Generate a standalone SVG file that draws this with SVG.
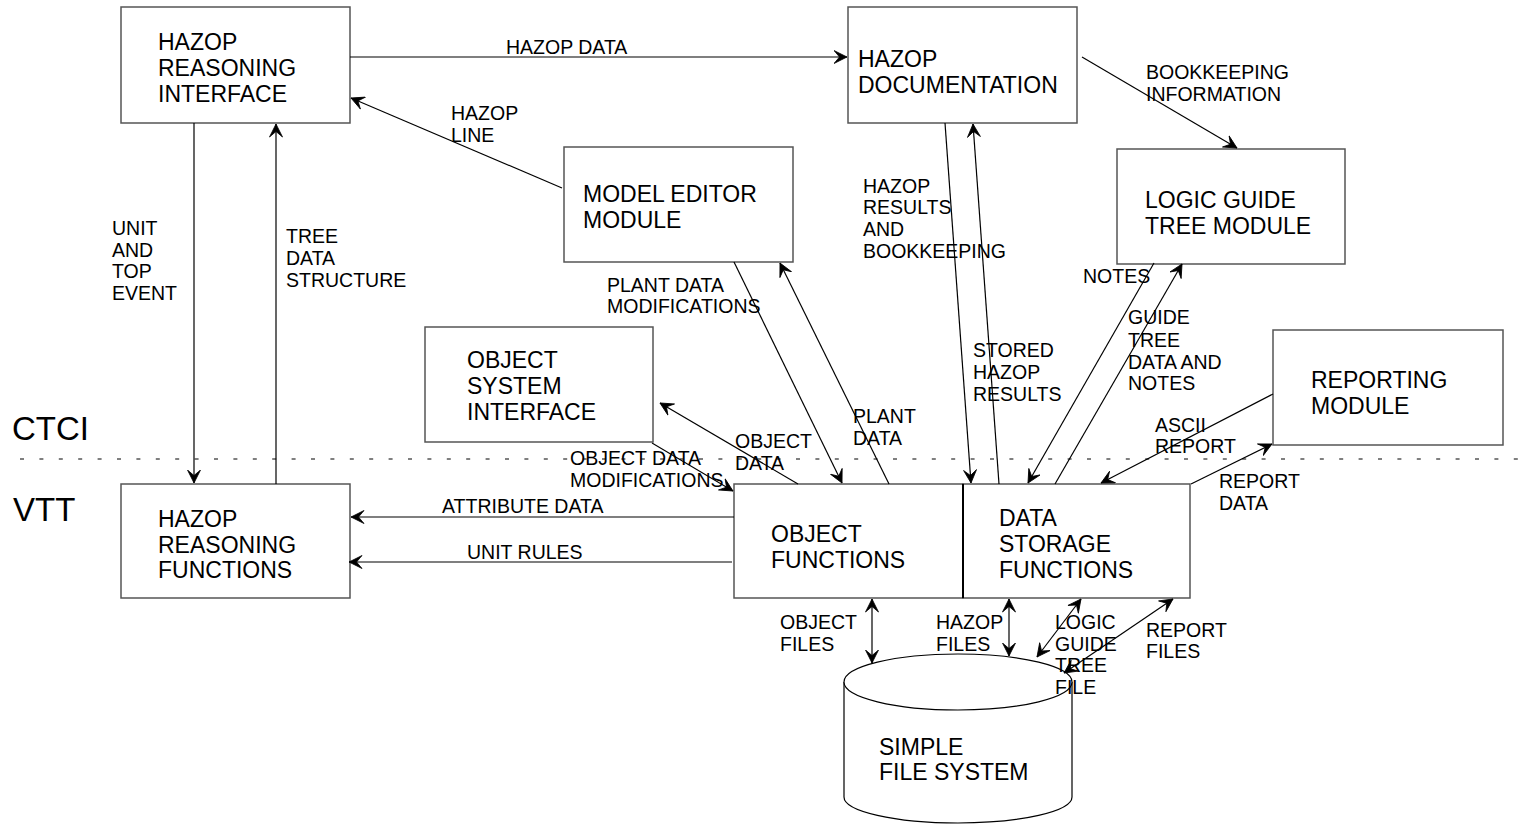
<svg xmlns="http://www.w3.org/2000/svg" width="1525" height="824" viewBox="0 0 1525 824">
  <style>
    .box { fill: #fff; stroke: #555; stroke-width: 1.5; }
    .big { font-family: "Liberation Sans", Arial, sans-serif; font-size: 23px; fill: #000; }
    .lbl { font-family: "Liberation Sans", Arial, sans-serif; font-size: 19.5px; fill: #000; }
    .side { font-family: "Liberation Sans", Arial, sans-serif; font-size: 33px; fill: #000; }
    .c { fill: none; stroke: #000; stroke-width: 1.2; }
    .a { marker-end: url(#ah); }
    .b { marker-start: url(#ah); marker-end: url(#ah); }
  </style>
  <defs>
    <!-- barbed dart arrowhead, reversed at line starts for two-way flows -->
    <marker id="ah" viewBox="0 0 14 14" refX="13.5" refY="7" markerWidth="14" markerHeight="14" markerUnits="userSpaceOnUse" orient="auto-start-reverse">
      <path d="M0.5,0.5 L13.5,7 L0.5,13.5 L6,7 Z" fill="#000" stroke="#000" stroke-width="0.8" stroke-linejoin="miter"/>
    </marker>
  </defs>
  <rect width="1525" height="824" fill="#fff"/>

  <!-- organisation boundary -->
  <g id="boundary">
    <line x1="20" y1="459" x2="1525" y2="459" stroke="#000" stroke-width="1" stroke-dasharray="4 15.4"/>
    <text class="side" x="12" y="440">CTCI</text>
    <text class="side" x="13" y="521">VTT</text>
  </g>

  <!-- nodes -->
  <g id="hazop-reasoning-interface">
    <rect class="box" x="121" y="7" width="229" height="116"/>
    <text class="big" x="158" y="50">HAZOP</text>
    <text class="big" x="158" y="76">REASONING</text>
    <text class="big" x="158" y="102">INTERFACE</text>
  </g>
  <g id="hazop-documentation">
    <rect class="box" x="848" y="7" width="229" height="116"/>
    <text class="big" x="858" y="67">HAZOP</text>
    <text class="big" x="858" y="93">DOCUMENTATION</text>
  </g>
  <g id="model-editor-module">
    <rect class="box" x="564" y="147" width="229" height="115"/>
    <text class="big" x="583" y="202">MODEL EDITOR</text>
    <text class="big" x="583" y="228">MODULE</text>
  </g>
  <g id="logic-guide-tree-module">
    <rect class="box" x="1117" y="149" width="228" height="115"/>
    <text class="big" x="1145" y="208">LOGIC GUIDE</text>
    <text class="big" x="1145" y="234">TREE MODULE</text>
  </g>
  <g id="object-system-interface">
    <rect class="box" x="425" y="327" width="228" height="115"/>
    <text class="big" x="467" y="368">OBJECT</text>
    <text class="big" x="467" y="394">SYSTEM</text>
    <text class="big" x="467" y="420">INTERFACE</text>
  </g>
  <g id="reporting-module">
    <rect class="box" x="1273" y="330" width="230" height="115"/>
    <text class="big" x="1311" y="388">REPORTING</text>
    <text class="big" x="1311" y="414">MODULE</text>
  </g>
  <g id="hazop-reasoning-functions">
    <rect class="box" x="121" y="484" width="229" height="114"/>
    <text class="big" x="158" y="527">HAZOP</text>
    <text class="big" x="158" y="553">REASONING</text>
    <text class="big" x="158" y="578">FUNCTIONS</text>
  </g>
  <g id="object-functions">
    <rect class="box" x="734" y="484" width="229" height="114"/>
    <text class="big" x="771" y="542">OBJECT</text>
    <text class="big" x="771" y="568">FUNCTIONS</text>
  </g>
  <g id="data-storage-functions">
    <rect class="box" x="963" y="484" width="227" height="114"/>
    <line x1="963" y1="484" x2="963" y2="598" stroke="#000" stroke-width="2"/>
    <text class="big" x="999" y="526">DATA</text>
    <text class="big" x="999" y="552">STORAGE</text>
    <text class="big" x="999" y="578">FUNCTIONS</text>
  </g>
  <g id="simple-file-system">
    <path d="M844,682 L844,797 A114,26 0 0 0 1072,797 L1072,682" fill="#fff" stroke="#000" stroke-width="1.2"/>
    <ellipse cx="958" cy="682" rx="114" ry="28" fill="#fff" stroke="#000" stroke-width="1.2"/>
    <text class="big" x="879" y="755">SIMPLE</text>
    <text class="big" x="879" y="780">FILE SYSTEM</text>
  </g>

  <!-- connectors -->
  <g id="connectors">
    <line class="c a" x1="350" y1="57" x2="847" y2="57"/>
    <line class="c a" x1="562" y1="188" x2="351" y2="98"/>
    <line class="c a" x1="194" y1="123" x2="194" y2="483"/>
    <line class="c a" x1="276" y1="484" x2="276" y2="124"/>
    <line class="c a" x1="734" y1="262" x2="842" y2="483"/>
    <line class="c a" x1="889" y1="484" x2="780" y2="263"/>
    <line class="c a" x1="798" y1="484" x2="660" y2="403"/>
    <line class="c a" x1="652" y1="443" x2="733" y2="491"/>
    <line class="c a" x1="734" y1="517" x2="351" y2="517"/>
    <line class="c a" x1="732" y1="562" x2="349" y2="562"/>
    <line class="c a" x1="945" y1="123" x2="971" y2="483"/>
    <line class="c a" x1="999" y1="484" x2="973" y2="124"/>
    <line class="c a" x1="1082" y1="57" x2="1237" y2="148"/>
    <line class="c a" x1="1154" y1="263" x2="1028" y2="483"/>
    <line class="c a" x1="1055" y1="484" x2="1182" y2="264"/>
    <line class="c a" x1="1273" y1="394" x2="1101" y2="483"/>
    <line class="c a" x1="1191" y1="484" x2="1272" y2="444"/>
    <line class="c b" x1="872" y1="599" x2="872" y2="663"/>
    <line class="c b" x1="1009" y1="599" x2="1009" y2="656"/>
    <line class="c b" x1="1081" y1="599" x2="1037" y2="657"/>
    <line class="c b" x1="1173" y1="599" x2="1064" y2="673"/>
  </g>

  <!-- connector labels -->
  <g id="labels">
    <text class="lbl" x="506" y="54">HAZOP DATA</text>
    <text class="lbl" x="451" y="120">HAZOP</text>
    <text class="lbl" x="451" y="142">LINE</text>
    <text class="lbl" x="112" y="235">UNIT</text>
    <text class="lbl" x="112" y="257">AND</text>
    <text class="lbl" x="112" y="278">TOP</text>
    <text class="lbl" x="112" y="300">EVENT</text>
    <text class="lbl" x="286" y="243">TREE</text>
    <text class="lbl" x="286" y="265">DATA</text>
    <text class="lbl" x="286" y="287">STRUCTURE</text>
    <text class="lbl" x="607" y="292">PLANT DATA</text>
    <text class="lbl" x="607" y="313">MODIFICATIONS</text>
    <text class="lbl" x="853" y="423">PLANT</text>
    <text class="lbl" x="853" y="445">DATA</text>
    <text class="lbl" x="735" y="448">OBJECT</text>
    <text class="lbl" x="735" y="470">DATA</text>
    <text class="lbl" x="570" y="465">OBJECT DATA</text>
    <text class="lbl" x="570" y="487">MODIFICATIONS</text>
    <text class="lbl" x="442" y="513">ATTRIBUTE DATA</text>
    <text class="lbl" x="467" y="559">UNIT RULES</text>
    <text class="lbl" x="863" y="193">HAZOP</text>
    <text class="lbl" x="863" y="214">RESULTS</text>
    <text class="lbl" x="863" y="236">AND</text>
    <text class="lbl" x="863" y="258">BOOKKEEPING</text>
    <text class="lbl" x="973" y="357">STORED</text>
    <text class="lbl" x="973" y="379">HAZOP</text>
    <text class="lbl" x="973" y="401">RESULTS</text>
    <text class="lbl" x="1146" y="79">BOOKKEEPING</text>
    <text class="lbl" x="1146" y="101">INFORMATION</text>
    <text class="lbl" x="1083" y="283">NOTES</text>
    <text class="lbl" x="1128" y="324">GUIDE</text>
    <text class="lbl" x="1128" y="347">TREE</text>
    <text class="lbl" x="1128" y="369">DATA AND</text>
    <text class="lbl" x="1128" y="390">NOTES</text>
    <text class="lbl" x="1155" y="432">ASCII</text>
    <text class="lbl" x="1155" y="453">REPORT</text>
    <text class="lbl" x="1219" y="488">REPORT</text>
    <text class="lbl" x="1219" y="510">DATA</text>
    <text class="lbl" x="780" y="629">OBJECT</text>
    <text class="lbl" x="780" y="651">FILES</text>
    <text class="lbl" x="936" y="629">HAZOP</text>
    <text class="lbl" x="936" y="651">FILES</text>
    <text class="lbl" x="1055" y="629">LOGIC</text>
    <text class="lbl" x="1055" y="651">GUIDE</text>
    <text class="lbl" x="1055" y="672">TREE</text>
    <text class="lbl" x="1055" y="694">FILE</text>
    <text class="lbl" x="1146" y="637">REPORT</text>
    <text class="lbl" x="1146" y="658">FILES</text>
  </g>
</svg>
